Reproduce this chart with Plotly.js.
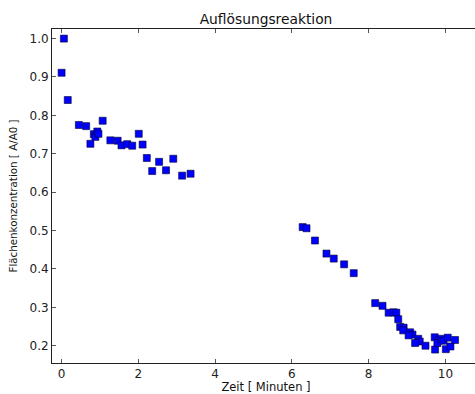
<!DOCTYPE html>
<html>
<head>
<meta charset="utf-8">
<script src="https://cdn.plot.ly/plotly-3.0.1.min.js"></script>
<style>
html,body{margin:0;padding:0;overflow:hidden;background:#fff;}
#chart{width:500px;height:394px;}
</style>
</head>
<body>
<div id="chart"></div>
<script>
const timeMin = [0.06, 0.0, 0.16, 0.45, 0.64, 0.75, 0.84, 0.88, 0.93, 0.96, 1.07, 1.27, 1.46, 1.56, 1.71, 1.84, 2.01, 2.11, 2.22, 2.36, 2.54, 2.72, 2.91, 3.14, 3.36,
  6.28, 6.38, 6.60, 6.90, 7.09, 7.36, 7.61, 8.17, 8.36, 8.52, 8.65, 8.72, 8.77, 8.82, 8.91, 8.90, 9.08, 9.14, 9.04, 9.29, 9.33, 9.21, 9.48,
  9.72, 9.73, 9.83, 9.79, 9.90, 9.95, 10.06, 10.01, 10.13, 10.25];
const concentration = [1.0, 0.911, 0.840, 0.775, 0.772, 0.726, 0.751, 0.744, 0.758, 0.752, 0.786, 0.735, 0.734, 0.722, 0.725, 0.721, 0.752, 0.724, 0.689, 0.655, 0.679, 0.657, 0.687, 0.643, 0.648,
  0.509, 0.506, 0.474, 0.440, 0.427, 0.412, 0.389, 0.311, 0.304, 0.286, 0.287, 0.286, 0.269, 0.249, 0.247, 0.240, 0.235, 0.229, 0.227, 0.218, 0.211, 0.207, 0.200,
  0.222, 0.190, 0.214, 0.207, 0.218, 0.213, 0.221, 0.191, 0.198, 0.215];
const xTicks = [0, 2, 4, 6, 8, 10];
const yTicks = [0.2, 0.3, 0.4, 0.5, 0.6, 0.7, 0.8, 0.9, 1.0];
const chartTitle = "Auflösungsreaktion";
const xLabel = "Zeit [ Minuten ]";
const yLabel = "Flächenkonzentration [ A/A0 ]";

const font = "DejaVu Sans, sans-serif";
const trace = {
  x: timeMin, y: concentration, type: "scatter", mode: "markers",
  marker: {symbol: "square", size: 7, color: "#0000ff", line: {color: "#000033", width: 0.6}},
  hoverinfo: "skip"
};
const axisCommon = {
  showgrid: false, zeroline: false, showline: true, linecolor: "#222", linewidth: 1,
  ticks: "inside", ticklen: 4, tickwidth: 1, tickcolor: "#555",
  tickfont: {family: font, size: 12, color: "#222"}, mirror: "ticks"
};
const layout = {
  width: 500, height: 394,
  margin: {l: 52, r: 20, t: 29, b: 31},
  paper_bgcolor: "#fff", plot_bgcolor: "#fff",
  showlegend: false,
  title: {text: chartTitle, font: {family: font, size: 13.8, color: "#111"}, x: 0.5, xref: "paper", y: 1, yref: "paper", yanchor: "bottom", pad: {b: 5}},
  xaxis: Object.assign({}, axisCommon, {
    range: [-0.25, 10.9], tickvals: xTicks, ticktext: xTicks.map(String),
    title: {text: xLabel, font: {family: font, size: 11.5, color: "#111"}, standoff: 9}
  }),
  yaxis: Object.assign({}, axisCommon, {
    range: [0.155, 1.025], tickvals: yTicks, ticktext: yTicks.map(v => v.toFixed(1)),
    title: {text: yLabel, font: {family: font, size: 10.3, color: "#111"}, standoff: 9}
  })
};
Plotly.newPlot("chart", [trace], layout, {staticPlot: true, displayModeBar: false});
</script>
</body>
</html>
